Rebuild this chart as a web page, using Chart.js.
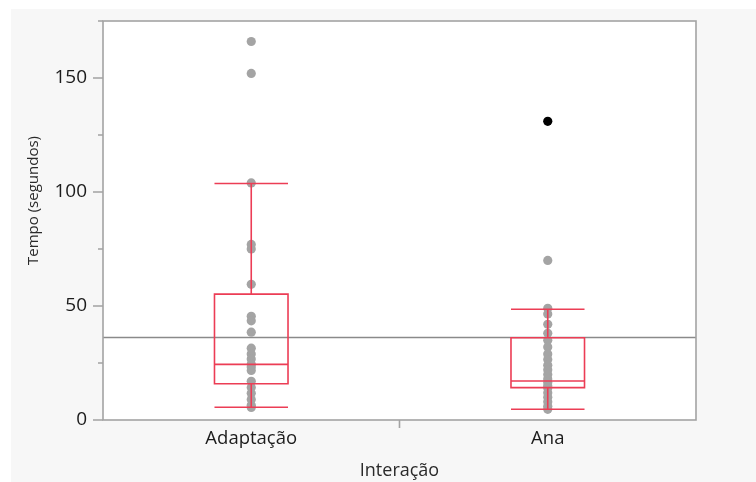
<!DOCTYPE html>
<html>
<head>
<meta charset="utf-8">
<script src="https://cdn.jsdelivr.net/npm/chart.js@4"></script>
<style>
  html, body { margin: 0; padding: 0; background: #ffffff; }
  #wrap { width: 756px; height: 482px; }
</style>
</head>
<body>
<div id="wrap"><canvas id="chart" width="756" height="482"></canvas></div>
<script>
// Interaction groups on the x axis
const categories = ['Adaptação', 'Ana'];

// Individual times (seconds) per group
const adaptacaoTimes = [166, 152, 104, 77, 75, 59.5, 45.5, 43.5, 38.5, 31.5, 29, 26.7, 24.5, 23.2, 21.7, 17, 14.3, 11.7, 9, 6.5, 5.5];
const anaTimes = [131, 70, 49, 46.5, 42, 38, 35, 32, 29, 26.5, 24, 22, 20, 18, 16.5, 15, 14, 12, 10, 8, 6, 4.7];
const anaHighlighted = [131];

// Box-plot summaries, one entry per group
const q1Values = [15.9, 14.2];
const medianValues = [24.4, 17.1];
const q3Values = [55.2, 36.1];
const whiskerLowValues = [5.6, 4.7];
const whiskerHighValues = [103.7, 48.6];

// Overall mean line
const grandMean = 36.2;

// Y axis ticks
const yLabeledTicks = [0, 50, 100, 150];
const yMax = 175;
const yStep = 25;

const FONT = '"Open Sans", "Noto Sans", sans-serif';
const POINT_GRAY = '#a4a4a4';
const BOX_RED = '#ec3d55';
const FRAME_GRAY = '#a3a3a3';

const boxPlotLayer = {
  id: 'boxPlotLayer',
  beforeDraw(chart) {
    const { ctx, chartArea: a } = chart;
    ctx.save();
    ctx.fillStyle = '#f7f7f7';
    ctx.fillRect(11, 9, chart.width - 11, chart.height - 9);
    ctx.fillStyle = '#ffffff';
    ctx.fillRect(a.left, a.top, a.right - a.left, a.bottom - a.top);
    ctx.restore();
  },
  beforeDatasetsDraw(chart) {
    const { ctx, chartArea: a, scales: { y } } = chart;
    const py = y.getPixelForValue(grandMean);
    ctx.save();
    ctx.strokeStyle = '#8a8a8a';
    ctx.lineWidth = 1.5;
    ctx.beginPath();
    ctx.moveTo(a.left, py);
    ctx.lineTo(a.right, py);
    ctx.stroke();
    ctx.restore();
  },
  afterDatasetsDraw(chart) {
    const { ctx, chartArea: a, scales: { x, y } } = chart;
    const catWidth = x.getPixelForValue(1) - x.getPixelForValue(0);
    const half = catWidth * 0.124;

    ctx.save();
    ctx.strokeStyle = BOX_RED;
    ctx.lineWidth = 1.6;
    categories.forEach((c, i) => {
      const cx = x.getPixelForValue(i);
      const yq1 = y.getPixelForValue(q1Values[i]);
      const yq3 = y.getPixelForValue(q3Values[i]);
      const ymed = y.getPixelForValue(medianValues[i]);
      const ylo = y.getPixelForValue(whiskerLowValues[i]);
      const yhi = y.getPixelForValue(whiskerHighValues[i]);
      ctx.beginPath();
      ctx.rect(cx - half, yq3, half * 2, yq1 - yq3);
      // median
      ctx.moveTo(cx - half, ymed); ctx.lineTo(cx + half, ymed);
      // whiskers
      ctx.moveTo(cx, yq3); ctx.lineTo(cx, yhi);
      ctx.moveTo(cx, yq1); ctx.lineTo(cx, ylo);
      // caps
      ctx.moveTo(cx - half, yhi); ctx.lineTo(cx + half, yhi);
      ctx.moveTo(cx - half, ylo); ctx.lineTo(cx + half, ylo);
      ctx.stroke();
    });
    ctx.restore();

    // plot frame and axis ticks
    ctx.save();
    ctx.strokeStyle = FRAME_GRAY;
    ctx.lineWidth = 1.6;
    ctx.strokeRect(a.left, a.top, a.right - a.left, a.bottom - a.top);
    ctx.beginPath();
    for (let v = 0; v <= yMax; v += yStep) {
      const py = y.getPixelForValue(v);
      const len = yLabeledTicks.includes(v) ? 10 : 5;
      ctx.moveTo(a.left - len, py);
      ctx.lineTo(a.left, py);
    }
    const bx = (x.getPixelForValue(0) + x.getPixelForValue(1)) / 2;
    ctx.moveTo(bx, a.bottom);
    ctx.lineTo(bx, a.bottom + 8);
    ctx.stroke();

    // y axis title, centred a little above the plot middle
    const titleY = (a.top + a.bottom) / 2 - 20;
    ctx.fillStyle = '#2a2a2a';
    ctx.font = '15px ' + FONT;
    ctx.textAlign = 'center';
    ctx.textBaseline = 'middle';
    ctx.translate(34, titleY);
    ctx.rotate(-Math.PI / 2);
    ctx.fillText('Tempo (segundos)', 0, 0);
    ctx.restore();
  }
};

new Chart(document.getElementById('chart'), {
  type: 'scatter',
  data: {
    labels: categories,
    datasets: [
      {
        label: categories[0],
        data: adaptacaoTimes.map(v => ({ x: categories[0], y: v })),
        pointBackgroundColor: POINT_GRAY,
        pointBorderWidth: 0,
        pointRadius: 4.6
      },
      {
        label: categories[1],
        data: anaTimes.map(v => ({ x: categories[1], y: v })),
        pointBackgroundColor: ctx => (ctx.raw && anaHighlighted.includes(ctx.raw.y)) ? '#000000' : POINT_GRAY,
        pointBorderWidth: 0,
        pointRadius: 4.6
      }
    ]
  },
  options: {
    responsive: false,
    animation: false,
    devicePixelRatio: 1,
    layout: { padding: { left: 0, top: 21, right: 60, bottom: 0 } },
    plugins: { legend: { display: false }, tooltip: { enabled: false } },
    scales: {
      x: {
        type: 'category',
        labels: categories,
        offset: true,
        grid: { offset: true, drawOnChartArea: false, drawTicks: true, tickLength: 8, color: 'transparent' },
        border: { display: false },
        ticks: { padding: 0, color: '#1c1c1c', font: { family: FONT, size: 18.5 } },
        title: { display: true, text: 'Interação', color: '#2a2a2a', font: { family: FONT, size: 18 }, padding: { top: 4, bottom: 0 } },
        afterFit(s) { s.height = 62; }
      },
      y: {
        min: 0,
        max: yMax,
        ticks: {
          stepSize: yStep,
          padding: 6,
          color: '#1c1c1c',
          font: { family: FONT, size: 19 },
          callback: v => yLabeledTicks.includes(v) ? String(v) : ''
        },
        grid: { drawOnChartArea: false, drawTicks: true, tickLength: 10, color: 'transparent' },
        border: { display: false },
        afterFit(s) { s.width = 103; }
      }
    }
  },
  plugins: [boxPlotLayer]
});
</script>
</body>
</html>
